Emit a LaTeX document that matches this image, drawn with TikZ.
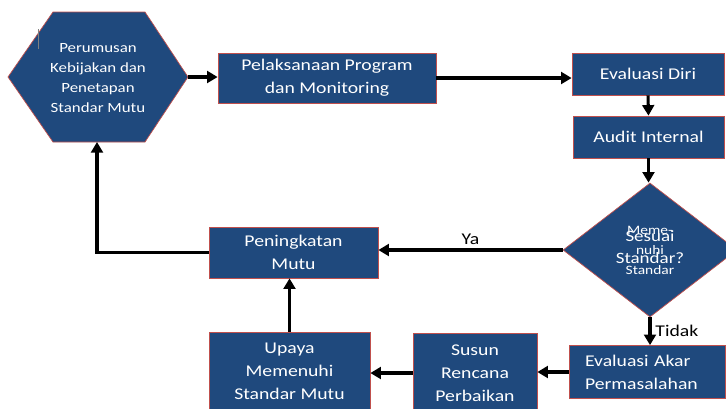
\documentclass[tikz,border=0pt]{standalone}
\usepackage{fontspec}
\setsansfont{Carlito}[FakeStretch=1.2]
\usepackage{xcolor}
\usepackage{tikz}
\usetikzlibrary{arrows.meta}
\usetikzlibrary{shapes.geometric}
\usetikzlibrary{positioning}

\definecolor{biru}{RGB}{31,73,125}
\definecolor{merah}{RGB}{192,80,77}

\tikzset{
  isi/.style={draw=merah, fill=biru, line width=0.6pt},
  kotak/.style={isi, text=white, align=center, inner sep=0pt,
    font=\sffamily\fontsize{14}{19.5}\selectfont},
  panah/.style={line width=2.6pt, -{Triangle[length=9pt,width=10pt]}},
  label/.style={font=\sffamily\fontsize{14}{16}\selectfont}
}

\begin{document}
\begin{tikzpicture}[x=0.03cm, y=-0.03cm]

% Rahmen
\useasboundingbox (0,0) rectangle (726,408);
\clip (0,0) rectangle (726,408);

% Sechseck
\draw[isi] (8,77) -- (53,12) -- (145,12) -- (188,77) -- (145,142) -- (53,142) -- cycle;
\coordinate (rumus-kanan) at (188,77);
\coordinate (rumus-bawah) at (97,142);
\node[text=white, align=center, font=\sffamily\fontsize{12}{17}\selectfont] (rumus) at (98,78)
  {Perumusan\\Kebijakan dan\\Penetapan\\Standar Mutu};
\draw[gray, line width=0.8pt] (38,29) -- (38,49);

% Kotak
\node[kotak, minimum width=6.54cm, minimum height=1.5cm] (laksana) at (327,78)
  {Pelaksanaan Program\\dan Monitoring};
\node[kotak, minimum width=4.56cm, minimum height=1.26cm] (diri) at (648,74) {Evaluasi Diri};
\node[kotak, minimum width=4.53cm, minimum height=1.26cm] (audit) at (648.5,137) {Audit Internal};
\node[isi, diamond, inner sep=0pt, minimum width=5.22cm, minimum height=4.02cm] (cek) at (650,250) {};
\node[text=white, align=center, font=\sffamily\fontsize{13.5}{19}\selectfont] at (650,247)
  {Sesuai\\Standar?};
\node[text=white, align=center, font=\sffamily\fontsize{11}{17}\selectfont] at (650,250)
  {Meme-\\nuhi\\Standar};
\node[kotak, minimum width=5.07cm, minimum height=1.53cm] (tingkat) at (293.5,252.5)
  {Peningkatan\\Mutu};
\node[kotak, minimum width=4.83cm, minimum height=2.34cm] (upaya) at (289.5,371)
  {Upaya\\Memenuhi\\Standar Mutu};
\node[kotak, minimum width=3.72cm, minimum height=2.4cm] (susun) at (475,373)
  {Susun\\Rencana\\Perbaikan};
\node[kotak, align=left, inner xsep=0.48cm, text width=3.72cm, minimum height=1.59cm] (akar) at (647,372)
  {Evaluasi Akar\\Permasalahan};

% Panah
\draw[panah] (rumus-kanan) -- (laksana.west |- rumus-kanan);
\draw[panah] (laksana.east) -- (laksana.east -| diri.west);
\draw[panah] (diri.south) -- (audit.north);
\draw[panah] (audit.south) -- (audit.south |- cek.north);
\draw[panah] (cek.west) -- (cek.west -| tingkat.east) node[label, midway, above] {Ya};
\draw[panah] (cek.south) -- (cek.south |- akar.north) node[label, midway, right] {Tidak};
\draw[panah] (akar.west) -- (akar.west -| susun.east);
\draw[panah] (susun.west) -- (susun.west -| upaya.east);
\draw[panah] (upaya.north) -- (upaya.north |- tingkat.south);
\draw[panah] (tingkat.west) -| (rumus-bawah);

\end{tikzpicture}
\end{document}
